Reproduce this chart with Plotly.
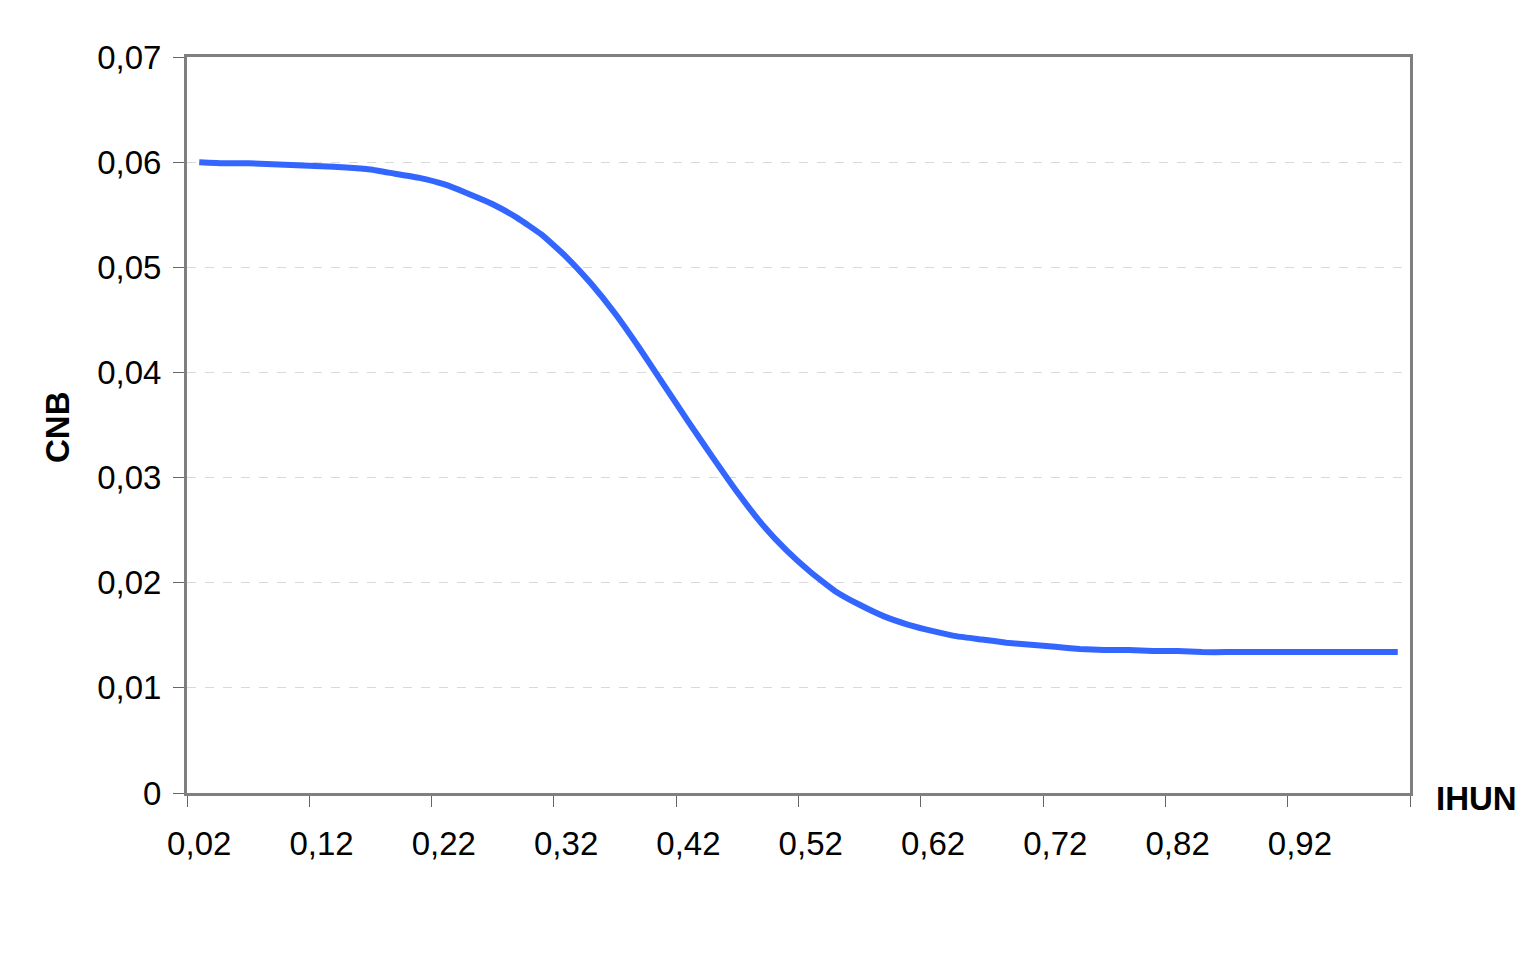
import plotly.graph_objects as go

# IHUN categories 0,02 ... 1,00
ihun = [round(0.02 * (i + 1), 2) for i in range(50)]
cnb = [
    0.0600, 0.0599, 0.0599, 0.0598, 0.0597, 0.0596, 0.0595, 0.0593, 0.0589, 0.0585,
    0.0579, 0.0570, 0.0560, 0.0547, 0.0531, 0.0510, 0.0485, 0.0456, 0.0423, 0.0388,
    0.0353, 0.0319, 0.0286, 0.0256, 0.0231, 0.0210, 0.0192, 0.0179, 0.0168, 0.0160,
    0.0154, 0.0149, 0.0146, 0.0143, 0.0141, 0.0139, 0.0137, 0.0136, 0.0136, 0.0135,
    0.0135, 0.0134, 0.0134, 0.0134, 0.0134, 0.0134, 0.0134, 0.0134, 0.0134, 0.0134,
]

x_tick_vals = [0.02, 0.12, 0.22, 0.32, 0.42, 0.52, 0.62, 0.72, 0.82, 0.92]
x_tick_text = ["0,02", "0,12", "0,22", "0,32", "0,42", "0,52", "0,62", "0,72", "0,82", "0,92"]
x_boundaries = [0.01, 0.11, 0.21, 0.31, 0.41, 0.51, 0.61, 0.71, 0.81, 0.91, 1.01]
y_tick_vals = [0, 0.01, 0.02, 0.03, 0.04, 0.05, 0.06, 0.07]
y_tick_text = ["0", "0,01", "0,02", "0,03", "0,04", "0,05", "0,06", "0,07"]

FONT = "Liberation Sans, Arial, sans-serif"

fig = go.Figure()
fig.add_trace(go.Scatter(
    x=ihun, y=cnb, mode="lines",
    line=dict(color="#3366ff", width=6, shape="spline", smoothing=0.4),
    showlegend=False,
))

# the page body has an 8px margin, so the figure is a bit smaller than the window
fig.update_layout(
    width=1513, height=954,
    margin=dict(l=179, r=111, t=49, b=169),
    paper_bgcolor="white", plot_bgcolor="white",
    font=dict(family=FONT, size=33, color="black"),
)
fig.update_xaxes(
    range=[0.01, 1.01],
    tickmode="array", tickvals=x_tick_vals, ticktext=x_tick_text,
    ticks="", showgrid=False, zeroline=False,
    showline=True, linecolor="#7f7f7f", linewidth=3, mirror=True,
    ticklabelstandoff=19,
    minor=dict(tickmode="array", tickvals=x_boundaries, ticks="outside",
               ticklen=11, tickwidth=1, tickcolor="#666666", showgrid=False),
)
fig.update_yaxes(
    range=[0, 0.07],
    tickmode="array", tickvals=y_tick_vals, ticktext=y_tick_text,
    ticks="outside", ticklen=11, tickwidth=1, tickcolor="#666666",
    showgrid=True, gridcolor="#d9d9d9", griddash="dash", gridwidth=1,
    zeroline=False,
    showline=True, linecolor="#7f7f7f", linewidth=3, mirror=True,
    ticklabelstandoff=5,
)

fig.add_annotation(
    text="<b>CNB</b>", textangle=-90, xref="paper", yref="paper",
    x=-(187 - 57) / 1223, y=(793 - 427) / 736, showarrow=False,
    xanchor="center", yanchor="middle", font=dict(size=33),
)
fig.add_annotation(
    text="<b>IHUN</b>", xref="paper", yref="paper",
    x=(1477 - 187) / 1223, y=-(798 - 793) / 736, showarrow=False,
    xanchor="center", yanchor="middle", font=dict(size=33),
)

fig.write_html("out.html")
